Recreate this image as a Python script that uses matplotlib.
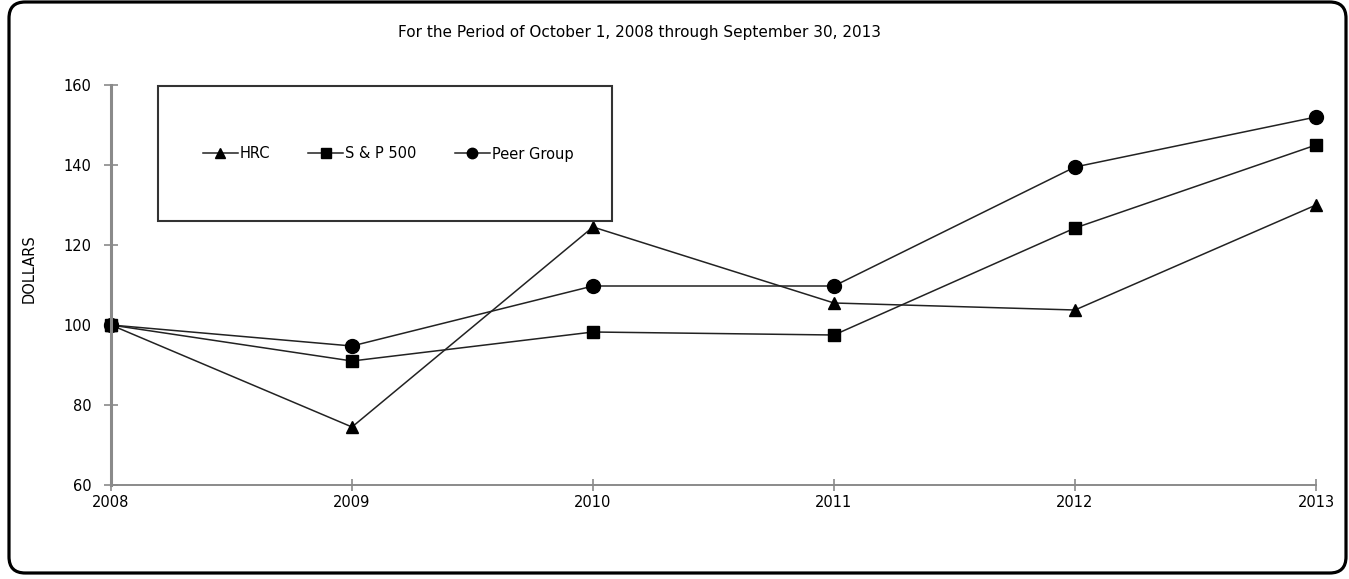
import matplotlib
matplotlib.use("Agg")
import matplotlib.pyplot as plt
from matplotlib.patches import FancyBboxPatch, Rectangle

years = [2008, 2009, 2010, 2011, 2012, 2013]
hrc = [100, 74.5, 124.5, 105.5, 103.75, 130]
sp500 = [100, 91, 98.25, 97.5, 124.25, 145]
peer = [100, 94.75, 109.75, 109.75, 139.5, 152]
y_ticks = [60, 80, 100, 120, 140, 160]
title = "For the Period of October 1, 2008 through September 30, 2013"

plt.rcParams['font.family'] = ['DejaVu Sans']

W, H = 1349, 579
fig = plt.figure(figsize=(W / 100, H / 100), dpi=100)

# rounded outer frame
frame = FancyBboxPatch((9 / W, 6 / H), (1346 - 9) / W, (577 - 6) / H,
                       boxstyle="round,pad=0,rounding_size=0.012",
                       transform=fig.transFigure, fill=False,
                       edgecolor='black', linewidth=2.3, mutation_aspect=W / H)
fig.patches.append(frame)

ax = fig.add_axes([111 / W, 1 - 485 / H, (1316 - 111) / W, (485 - 85) / H])
gray = '#8a8a8a'
kw = dict(color='#222222', lw=1.1, mfc='black', mec='black', clip_on=False)
ax.plot(years, hrc, marker='^', ms=9, label='HRC', **kw)
ax.plot(years, sp500, marker='s', ms=9, label='S & P 500', **kw)
ax.plot(years, peer, marker='o', ms=10, label='Peer Group', **kw)

ax.set_xlim(2008, 2013)
ax.set_ylim(60, 160)
ax.set_xticks(years)
ax.set_yticks(y_ticks)
for s in ['top', 'right']:
    ax.spines[s].set_visible(False)
for s in ['left', 'bottom']:
    ax.spines[s].set_color(gray)
ax.spines['left'].set_linewidth(2.2)
ax.spines['bottom'].set_linewidth(1.4)
ax.tick_params(axis='y', direction='inout', length=10, width=1.2, color=gray, labelsize=10.5, pad=9)
ax.tick_params(axis='x', direction='inout', length=8, width=1.2, color=gray, labelsize=10.5, pad=3)
ax.patch.set_visible(False)

fig.text(29 / W, 1 - 269 / H, 'DOLLARS', rotation=90, ha='center', va='center', fontsize=10.5)

# legend box
rect = Rectangle((158 / W, 1 - 221 / H), (612 - 158) / W, (221 - 86) / H,
                 transform=fig.transFigure, fill=True, facecolor='white',
                 edgecolor='#333333', linewidth=1.5, zorder=5)
fig.patches.append(rect)
leg = fig.legend(loc='center', bbox_to_anchor=(388 / W, 1 - 154 / H), ncol=3,
                 frameon=False, fontsize=10.5, handlelength=2.4, handletextpad=0.15,
                 columnspacing=2.6, markerscale=0.75)
leg.set_zorder(6)

fig.text(640 / W, 1 - 32 / H, title, ha='center', va='center', fontsize=11)

fig.savefig('out.png', dpi=100)
